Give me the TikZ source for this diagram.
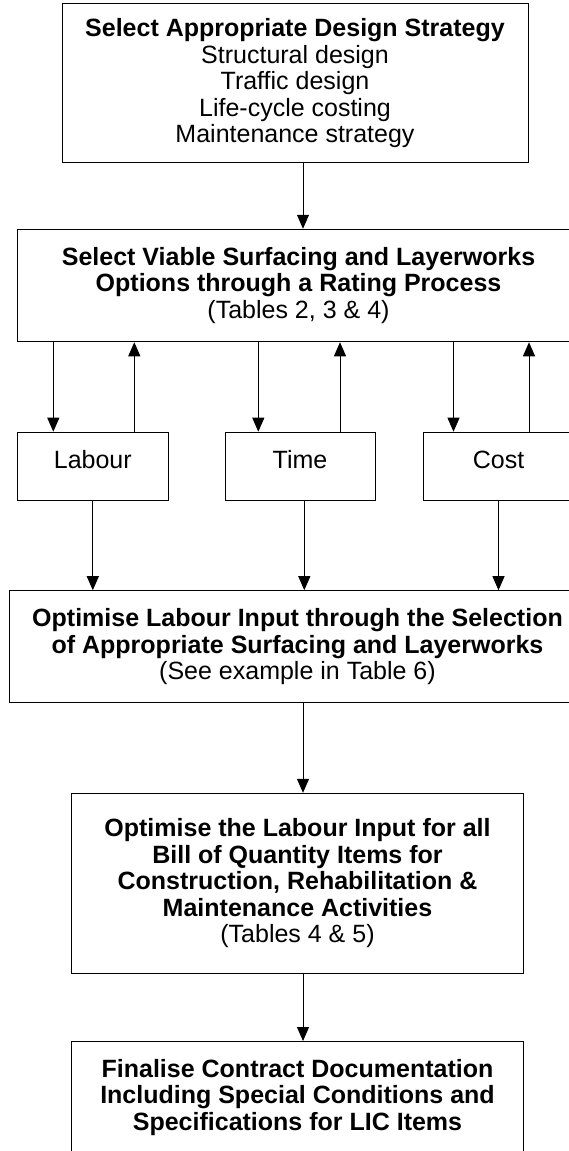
\documentclass[tikz,border=0pt]{standalone}
\usepackage{fontspec}
\setmainfont{Liberation Sans}
\usetikzlibrary{arrows.meta, positioning}

\begin{document}
\begin{tikzpicture}[x=1pt, y=-1pt,
  box/.style={draw, line width=1pt, align=center, inner sep=2pt,
    font=\fontsize{25}{26.5}\selectfont},
  factor/.style={box, minimum height=68pt, text height=18pt, text depth=13.4pt},
  arr/.style={-{Triangle[length=14pt,width=12pt]}, line width=1pt}]
  \useasboundingbox (0,0) rectangle (569,1151);
  \clip (0,0) rectangle (569,1151);
  % Design strategy
  \node[box, minimum width=466pt, minimum height=159pt] (design) at (295,83.3)
    {\textbf{Select Appropriate Design Strategy}\\Structural design\\
     Traffic design\\Life-cycle costing\\Maintenance strategy};
  % Rating process
  \node[box, minimum width=562pt, minimum height=112.5pt] (rating) at (298.5,285.5)
    {\textbf{Select Viable Surfacing and Layerworks}\\
     \textbf{Options through a Rating Process}\\(Tables 2, 3 \& 4)};
  % Labour, time, cost
  \node[factor, minimum width=151pt] (labour) at (92.8,466.2) {Labour};
  \node[factor, minimum width=150pt] (time) at (300,466.2) {Time};
  \node[factor, minimum width=151pt] (cost) at (498.5,466.2) {Cost};
  % Optimise
  \node[box, minimum width=576pt, minimum height=112pt] (labsel) at (297.5,646.7)
    {\textbf{Optimise Labour Input through the Selection}\\
     \textbf{of Appropriate Surfacing and Layerworks}\\(See example in Table 6)};
  \node[box, minimum width=451.5pt, minimum height=180pt] (boq) at (297.5,883.3)
    {\textbf{Optimise the Labour Input for all}\\\textbf{Bill of Quantity Items for}\\
     \textbf{Construction, Rehabilitation \&}\\\textbf{Maintenance Activities}\\(Tables 4 \& 5)};
  \node[box, minimum width=451.5pt, minimum height=112pt] (final) at (297.5,1097.5)
    {\textbf{Finalise Contract Documentation}\\
     \textbf{Including Special Conditions and}\\\textbf{Specifications for LIC Items}};
  % Connectors
  \draw[arr] ([xshift=8pt]design.south) -- ([xshift=8pt]design.south |- rating.north);
  \draw[arr] ([xshift=-39.5pt]labour.north |- rating.south) -- ([xshift=-39.5pt]labour.north);
  \draw[arr] ([xshift=41.5pt]labour.north) -- ([xshift=41.5pt]labour.north |- rating.south);
  \draw[arr] ([xshift=-41.7pt]time.north |- rating.south) -- ([xshift=-41.7pt]time.north);
  \draw[arr] ([xshift=40pt]time.north) -- ([xshift=40pt]time.north |- rating.south);
  \draw[arr] ([xshift=-45pt]cost.north |- rating.south) -- ([xshift=-45pt]cost.north);
  \draw[arr] ([xshift=30.5pt]cost.north) -- ([xshift=30.5pt]cost.north |- rating.south);
  \draw[arr] (labour.south) -- (labour.south |- labsel.north);
  \draw[arr] ([xshift=4.3pt]time.south) -- ([xshift=4.3pt]time.south |- labsel.north);
  \draw[arr] (cost.south) -- (cost.south |- labsel.north);
  \draw[arr] ([xshift=5.5pt]labsel.south) -- ([xshift=5.5pt]labsel.south |- boq.north);
  \draw[arr] ([xshift=5.5pt]boq.south) -- ([xshift=5.5pt]boq.south |- final.north);
\end{tikzpicture}
\end{document}
